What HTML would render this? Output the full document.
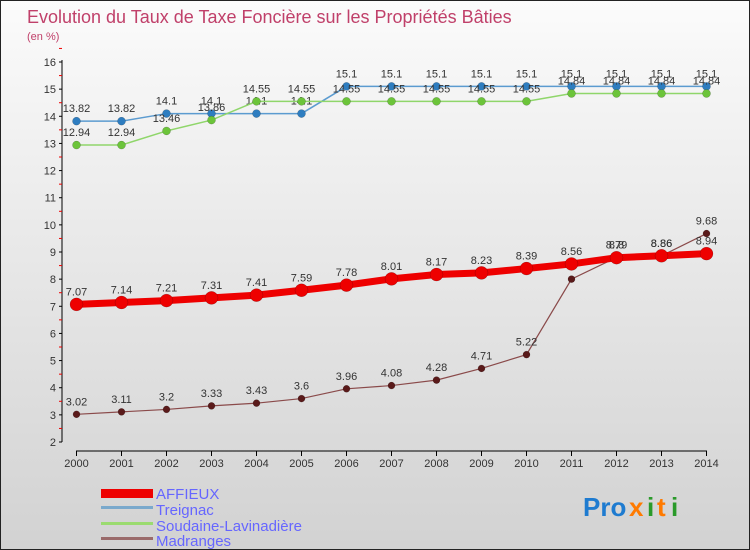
<!DOCTYPE html>
<html><head><meta charset="utf-8"><style>
body{margin:0;}
#c{position:relative;width:750px;height:550px;box-sizing:border-box;border:1px solid #222;background:linear-gradient(#fbfbfb,#d2d2d2);font-family:"Liberation Sans",sans-serif;overflow:hidden}
</style></head><body>
<div id="c">
<svg id="s" width="750" height="550" style="position:absolute;left:0;top:0">
<text x="26" y="22" font-size="18" fill="#c0406a">Evolution du Taux de Taxe Foncière sur les Propriétés Bâties</text>
<text x="26" y="39" font-size="11" fill="#c0406a">(en %)</text>
<g id="axes"></g><g id="series"></g>
<g>
<rect x="100" y="488" width="52" height="9" fill="#e00"/>
<text x="155" y="498" font-size="15" fill="#6666ff">AFFIEUX</text>
<rect x="100" y="505" width="52" height="3" fill="#7aa9cc"/>
<text x="155" y="514" font-size="15" fill="#6666ff">Treignac</text>
<rect x="100" y="521" width="52" height="3" fill="#9bdb70"/>
<text x="155" y="530" font-size="15" fill="#6666ff">Soudaine-Lavinadière</text>
<rect x="100" y="536" width="52" height="3" fill="#9a6b6b"/>
<text x="155" y="545" font-size="15" fill="#6666ff">Madranges</text>
</g>
<g font-size="26" font-weight="bold">
<text x="582" y="515" fill="#1e7bd0">Pro</text><text x="628" y="515" fill="#ff7a00">x</text><text x="646" y="515" fill="#2a9a2a">i</text><text x="656" y="515" fill="#ff7a00">t</text><text x="670" y="515" fill="#2a9a2a">i</text>
</g>
</svg>
</div>
<script>
const years=[2000,2001,2002,2003,2004,2005,2006,2007,2008,2009,2010,2011,2012,2013,2014];
const affieux=[7.07,7.14,7.21,7.31,7.41,7.59,7.78,8.01,8.17,8.23,8.39,8.56,8.79,8.86,8.94];
const treignac=[13.82,13.82,14.1,14.1,14.1,14.1,15.1,15.1,15.1,15.1,15.1,15.1,15.1,15.1,15.1];
const soudaine=[12.94,12.94,13.46,13.86,14.55,14.55,14.55,14.55,14.55,14.55,14.55,14.84,14.84,14.84,14.84];
const madranges=[3.02,3.11,3.2,3.33,3.43,3.6,3.96,4.08,4.28,4.71,5.22,8,8.8,8.86,9.68];
const yTicks=[2,3,4,5,6,7,8,9,10,11,12,13,14,15,16];
const NS="http://www.w3.org/2000/svg";
const X=i=>75.5+i*45;
const Y=v=>441-(v-2)*(380/14);
function mk(t,a,p){const e=document.createElementNS(NS,t);for(const k in a)e.setAttribute(k,a[k]);p.appendChild(e);return e;}
const ax=document.getElementById('axes'),sg=document.getElementById('series');
let yl=mk('line',{x1:61,y1:59,x2:61,y2:441,stroke:'#000'},ax);


yTicks.forEach(v=>{mk('line',{x1:58,y1:Y(v),x2:61,y2:Y(v),stroke:'#000'},ax);
 mk('line',{x1:58,y1:Y(v+0.5),x2:61,y2:Y(v+0.5),stroke:'#e00'},ax);
 const t=mk('text',{x:55,y:Y(v)+4,'font-size':11,'text-anchor':'end',fill:'#333'},ax);t.textContent=v;
 
 });
let xl=mk('line',{x1:75,y1:450,x2:706,y2:450,stroke:'#000'},ax);


years.forEach((y,i)=>{mk('line',{x1:X(i),y1:450,x2:X(i),y2:455,stroke:'#000'},ax);
 const t=mk('text',{x:X(i),y:466,'font-size':11,'text-anchor':'middle',fill:'#333'},ax);t.textContent=y;
 
 });
function series(d,color,dot,w,r,name){
 const g=mk('g',{},sg);
 
 
 mk('polyline',{points:d.map((v,i)=>X(i)+','+Y(v)).join(' '),fill:'none',stroke:color,'stroke-width':w},g);
 d.forEach((v,i)=>{const c=mk('circle',{cx:X(i),cy:Y(v),r:r,fill:dot,stroke:'rgba(0,0,0,0.3)','stroke-width':0.5},g);
  
  
  const t=mk('text',{x:X(i),y:Y(v)-9,'font-size':11,'text-anchor':'middle',fill:'#333'},g);t.textContent=v;
  
  });
}
series(treignac,'#5b9bd0','#2e7dc0',1.5,4,'treignac-series');
series(soudaine,'#8fd66a','#6cc43a',1.5,4,'soudaine-series');
series(madranges,'#8a4a4a','#5a1a1a',1.2,3.5,'madranges-series');
series(affieux,'#ee0000','#ee0000',7,6.5,'affieux-series');
</script>
</body></html>
